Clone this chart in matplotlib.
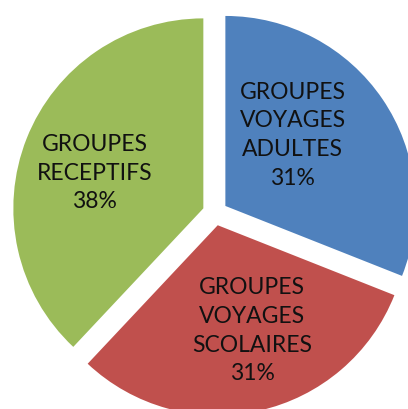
import matplotlib.pyplot as plt

# data
labels = ['GROUPES\nVOYAGES\nADULTES', 'GROUPES\nVOYAGES\nSCOLAIRES', 'GROUPES\nRECEPTIFS']
values = [31, 31, 38]
colors = ['#4F81BD', '#C0504D', '#9BBB59']

# where each label block sits (data units, radius = 1)
label_pos = [(0.41, 0.41), (0.195, -0.62), (-0.632, 0.21)]

fig = plt.figure(figsize=(4.08, 4.09), dpi=100)
ax = fig.add_axes([0, 0, 1, 1])

vals = iter(labels)
wedges, texts, autotexts = ax.pie(
    values, colors=colors, startangle=90, counterclock=False,
    explode=[0.066] * 3, radius=1,
    autopct=lambda p: '%s\n%d%%' % (next(vals), round(p)),
    pctdistance=0.57,
    wedgeprops=dict(linewidth=0),
    textprops=dict(fontsize=16.5, family='Lato', color='#111111',
                   linespacing=1.45, ha='center', va='center'))

for t, pos in zip(autotexts, label_pos):
    t.set_position(pos)

ax.set_xlim(-215 / 190, (408 - 215) / 190)
ax.set_ylim(-(409 - 213) / 190, 213 / 190)
ax.set_aspect('auto')
ax.axis('off')

fig.savefig('out.png', dpi=100)
